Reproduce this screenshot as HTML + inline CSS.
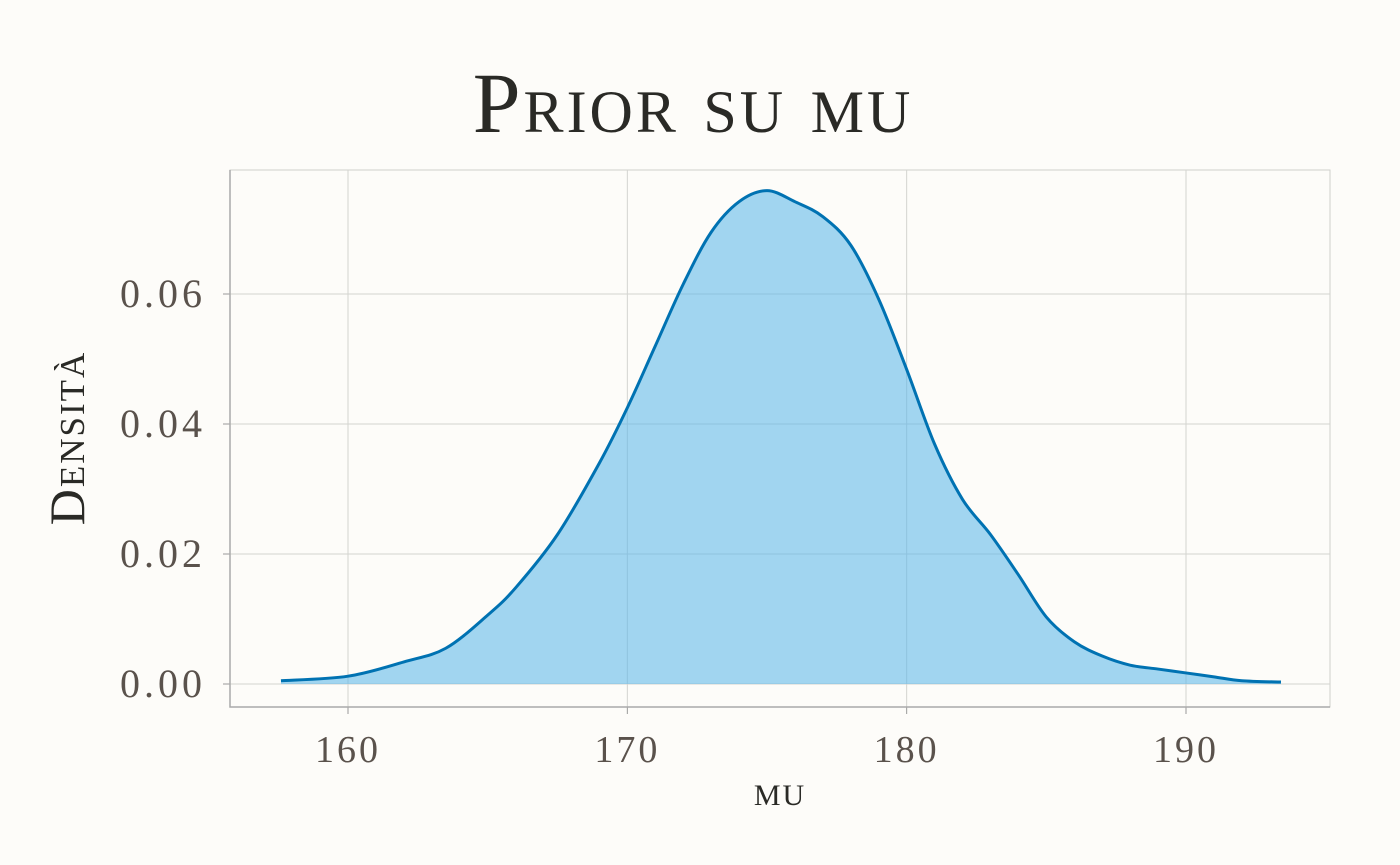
<!DOCTYPE html>
<html><head><meta charset="utf-8"><style>
body{margin:0;background:#fdfcf9;}
svg{display:block;font-family:"Liberation Serif",serif;}
</style></head><body>
<svg id="c" width="1400" height="865">
<rect width="1400" height="865" fill="#fdfcf9"/>
<text x="693" y="132" text-anchor="middle" font-size="86" letter-spacing="3" fill="#2a2a26" style="font-variant:small-caps">Prior su mu</text>
<text x="780" y="805" text-anchor="middle" font-size="30" letter-spacing="2" fill="#2a2a26">MU</text>
<text transform="translate(84,438) rotate(-90)" text-anchor="middle" font-size="50" letter-spacing="2" fill="#2a2a26" style="font-variant:small-caps">Densità</text>
<g id="grid"></g><g id="marks"></g><g id="axes"></g>
</svg>
<script>
const xVals=[157.6,160,162,163.5,165,166,167.5,169,170,171,172,173,174,175,176,177,178,179,180,181,182,183,184,185,186,187,188,189,190,191,192,193.4];
const densVals=[0.0005,0.0012,0.0034,0.0055,0.0106,0.0148,0.023,0.034,0.0425,0.052,0.0615,0.0695,0.0742,0.0759,0.0742,0.0719,0.0675,0.0592,0.0484,0.0369,0.0284,0.023,0.0168,0.0103,0.0065,0.0043,0.0029,0.0023,0.0017,0.0011,0.0005,0.0003];
const xTicks=[160,170,180,190];
const yTicks=[0,0.02,0.04,0.06];
const yTickLabels=["0.00","0.02","0.04","0.06"];
const L=230,R=1330,T=170,B=707;
const sx=v=>348+(v-160)*(1186-348)/30;
const sy=v=>684-v*(684-294)/0.06;
const NS="http://www.w3.org/2000/svg";
function mk(tag,attrs,parent){const e=document.createElementNS(NS,tag);for(const k in attrs)e.setAttribute(k,attrs[k]);parent.appendChild(e);return e;}
const grid=document.getElementById('grid'),marks=document.getElementById('marks'),axes=document.getElementById('axes');
const panel=mk('rect',{x:L,y:T,width:R-L,height:B-T,fill:'none',stroke:'#d0d0cc','stroke-width':1},grid);


xTicks.forEach(t=>{
 const g=mk('line',{x1:sx(t),x2:sx(t),y1:T,y2:B,stroke:'#d4d4d0','stroke-width':1},grid);
 
 
 const tk=mk('line',{x1:sx(t),x2:sx(t),y1:B,y2:B+7,stroke:'#999','stroke-width':1},axes);
 
 
 const tx=mk('text',{x:sx(t),y:B+55,'text-anchor':'middle','font-size':38,'letter-spacing':3,fill:'#5a524c'},axes);
 tx.textContent=t;
 
 
});
yTicks.forEach((t,i)=>{
 const g=mk('line',{x1:L,x2:R,y1:sy(t),y2:sy(t),stroke:'#d4d4d0','stroke-width':1},grid);
 
 
 const tk=mk('line',{x1:L-7,x2:L,y1:sy(t),y2:sy(t),stroke:'#999','stroke-width':1},axes);
 
 
 const tx=mk('text',{x:L-24,y:sy(t)+13,'text-anchor':'end','font-size':40,'letter-spacing':4,fill:'#5a524c'},axes);
 tx.textContent=yTickLabels[i];
 
 
});
const ax=mk('path',{d:`M${L},${T}V${B}H${R}`,fill:'none',stroke:'#aaa','stroke-width':1.5},axes);


const P=xVals.map((x,i)=>[sx(x),sy(densVals[i])]);
let d=`M${P[0][0]},${P[0][1]}`;
for(let i=0;i<P.length-1;i++){
 const p0=P[Math.max(0,i-1)],p1=P[i],p2=P[i+1],p3=P[Math.min(P.length-1,i+2)];
 d+=`C${p1[0]+(p2[0]-p0[0])/6},${p1[1]+(p2[1]-p0[1])/6} ${p2[0]-(p3[0]-p1[0])/6},${p2[1]-(p3[1]-p1[1])/6} ${p2[0]},${p2[1]}`;
}
const area=mk('path',{d:d+`L${P[P.length-1][0]},${sy(0)}L${P[0][0]},${sy(0)}Z`,fill:'#56b4e9','fill-opacity':0.55},marks);


const line=mk('path',{d:d,fill:'none',stroke:'#0072b2','stroke-width':3},marks);


</script>
</body></html>
